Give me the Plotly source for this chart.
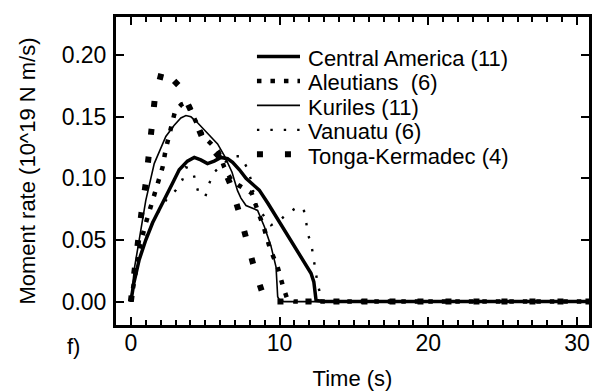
import plotly.graph_objects as go

# Source time functions: moment rate (10^19 N m/s) versus time (s)
ca_t = [0, 0.2, 0.56, 1.0, 1.46, 1.9, 2.35, 2.8, 3.25, 3.8, 4.26, 4.7, 5.15, 5.6, 6.06, 6.5, 6.84, 7.3, 7.74, 8.2, 8.63, 9.2, 9.76, 10.3, 10.87, 11.5, 12.11, 12.3, 12.45, 13, 31]
ca_y = [0, 0.015, 0.034, 0.05, 0.064, 0.075, 0.085, 0.096, 0.107, 0.114, 0.117, 0.115, 0.112, 0.114, 0.117, 0.116, 0.113, 0.107, 0.100, 0.095, 0.0905, 0.080, 0.069, 0.058, 0.047, 0.035, 0.023, 0.016, 0.001, 0, 0]

al_t = [0, 0.3, 0.6, 1.0, 1.39, 1.79, 2.13, 2.35, 2.64, 2.98, 3.4, 3.81, 4.21, 4.87, 5.4, 5.88, 6.28, 6.73, 7.3, 7.7, 8.12, 8.52, 8.97, 9.35, 9.87, 10.2, 10.54, 11, 31]
al_y = [0, 0.025, 0.045, 0.0635, 0.079, 0.094, 0.109, 0.124, 0.139, 0.155, 0.16, 0.162, 0.150, 0.134, 0.128, 0.122, 0.109, 0.099, 0.094, 0.091, 0.088, 0.074, 0.059, 0.043, 0.028, 0.0135, 0.001, 0, 0]

ku_t = [0, 0.25, 0.56, 1.0, 1.57, 2.35, 2.9, 3.36, 3.7, 4.04, 4.5, 5.05, 5.83, 6.3, 6.8, 7.17, 7.4, 7.74, 8.1, 8.52, 8.97, 9.42, 9.76, 9.87, 10.0, 10.3, 31]
ku_y = [0, 0.028, 0.050, 0.082, 0.112, 0.134, 0.143, 0.149, 0.151, 0.150, 0.145, 0.138, 0.128, 0.118, 0.105, 0.090, 0.084, 0.078, 0.076, 0.074, 0.061, 0.045, 0.028, 0.004, 0.001, 0, 0]

va_t = [0, 0.3, 0.7, 1.2, 1.8, 2.4, 3.03, 3.47, 3.7, 4.15, 4.33, 4.55, 5.0, 5.27, 5.6, 6.2, 6.9, 7.36, 7.8, 8.07, 8.41, 8.9, 9.42, 10.0, 10.54, 11.1, 11.6, 11.78, 11.9, 12.15, 12.29, 12.45, 12.56, 12.78, 13.0, 31]
va_y = [0, 0.022, 0.042, 0.058, 0.072, 0.083, 0.0905, 0.099, 0.109, 0.107, 0.098, 0.088, 0.085, 0.096, 0.105, 0.112, 0.118, 0.118, 0.109, 0.099, 0.078, 0.070, 0.062, 0.066, 0.0716, 0.076, 0.076, 0.065, 0.055, 0.045, 0.034, 0.024, 0.014, 0.004, 0, 0]

tk_t = [0, 0.22, 0.49, 0.71, 1.0, 1.19, 1.39, 1.61, 2.13, 3.32, 4.15, 4.87, 5.9, 6.73, 7.29, 7.8, 8.3, 8.9, 9.3, 31]
tk_y = [0, 0.026, 0.049, 0.072, 0.096, 0.119, 0.142, 0.165, 0.189, 0.174, 0.152, 0.131, 0.118, 0.094, 0.072, 0.049, 0.027, 0.005, 0, 0]

names = ["Central America (11)", "Aleutians  (6)", "Kuriles (11)", "Vanuatu (6)", "Tonga-Kermadec (4)"]

FONT = "Liberation Sans, Arial, Helvetica, sans-serif"

styles = [
    dict(width=3.5, dash="solid"),
    dict(width=4.5, dash="4.5px,9px"),
    dict(width=1.6, dash="solid"),
    dict(width=2.4, dash="2.4px,11px"),
    dict(width=6, dash="6px,22px"),
]
data = [(ca_t, ca_y), (al_t, al_y), (ku_t, ku_y), (va_t, va_y), (tk_t, tk_y)]

fig = go.Figure()
for name, (t, y), ln in zip(names, data, styles):
    fig.add_trace(go.Scatter(x=t, y=y, mode="lines", name=name, showlegend=False,
                             line=dict(color="black", **ln)))

# Key drawn in the upper right of the plot area (paper coordinates)
key_x0, key_x1, key_text_x = 0.298, 0.389, 0.402
key_top, key_step = 0.872, 0.0795
for i, (name, ln) in enumerate(zip(names, styles)):
    yk = key_top - i * key_step
    fig.add_shape(type="line", xref="paper", yref="paper",
                  x0=key_x0, x1=key_x1, y0=yk, y1=yk,
                  line=dict(color="black", **ln))
    fig.add_annotation(text=name, xref="paper", yref="paper", x=key_text_x, y=yk - 0.006,
                       xanchor="left", yanchor="middle", showarrow=False,
                       font=dict(family=FONT, size=22, color="black"))

axis_common = dict(
    showline=True, linecolor="black", linewidth=3, mirror="ticks",
    ticks="inside", tickcolor="black", tickwidth=1.8, ticklen=8,
    showgrid=False, zeroline=False, automargin=False,
    tickfont=dict(family=FONT, size=23, color="black"),
)

fig.update_xaxes(
    range=[-1.0, 30.8], tickmode="linear", tick0=0, dtick=10,
    minor=dict(tickmode="linear", tick0=0, dtick=1, ticks="inside", ticklen=5,
               tickwidth=1.5, tickcolor="black", showgrid=False),
    title=dict(text="Time (s)", font=dict(family=FONT, size=22, color="black"), standoff=17),
    ticklabelstandoff=-5,
    **axis_common,
)
fig.update_yaxes(
    range=[-0.019, 0.231], tickmode="linear", tick0=0, dtick=0.05, tickformat=".2f",
    title=dict(text="Moment rate (10^19 N m/s)", font=dict(family=FONT, size=22, color="black"), standoff=20),
    ticklabelstandoff=2,
    **axis_common,
)

fig.add_annotation(text="f)", xref="paper", yref="paper", x=-0.09, y=-0.07,
                   xanchor="center", yanchor="middle", showarrow=False,
                   font=dict(family=FONT, size=22, color="black"))

fig.update_layout(
    width=599, height=391,
    margin=dict(l=116, r=10, t=17, b=66),
    paper_bgcolor="white", plot_bgcolor="white",
    font=dict(family=FONT, size=22, color="black"),
    showlegend=False,
)

fig.write_html("out.html")
